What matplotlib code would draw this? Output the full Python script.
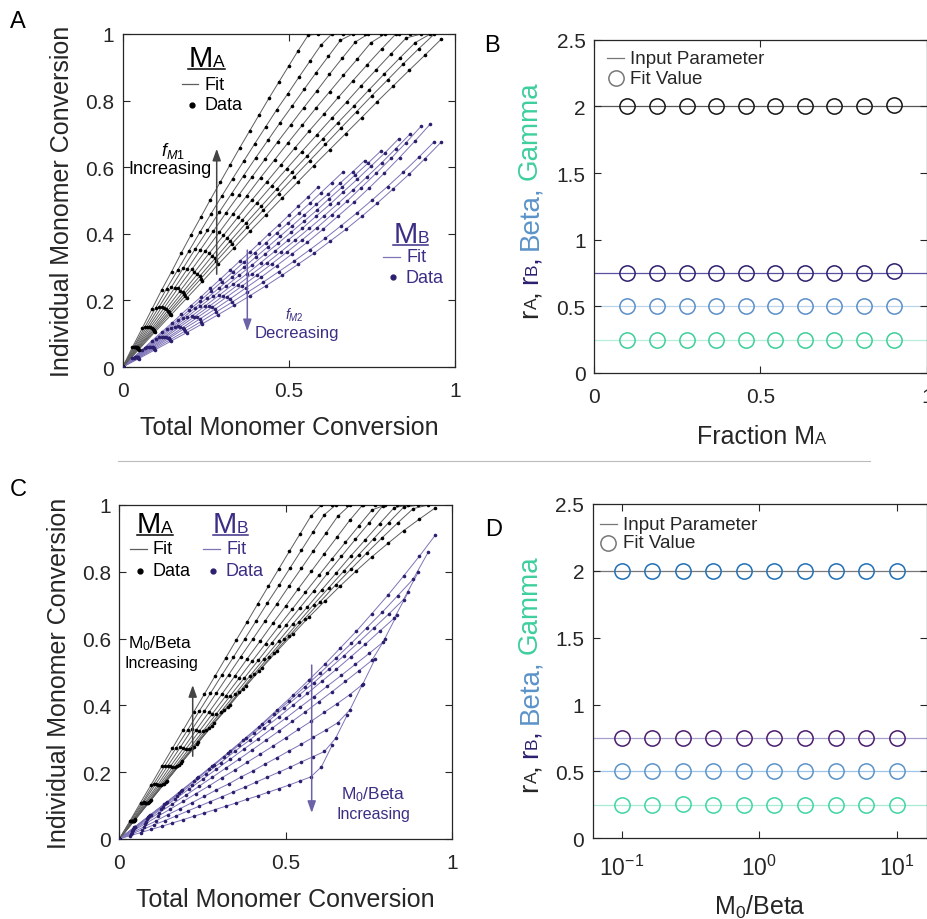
import numpy as np
import matplotlib
matplotlib.use("Agg")
import matplotlib.pyplot as plt
from matplotlib.lines import Line2D

plt.rcParams['font.family'] = ['Liberation Sans', 'DejaVu Sans']
plt.rcParams['mathtext.fontset'] = 'custom'
plt.rcParams['mathtext.rm'] = 'Liberation Sans'
plt.rcParams['mathtext.it'] = 'Liberation Sans:italic'

# ---------------- panel A: one row per feed fraction (f_MA = 0.1 ... 0.9)
A_x = [
    [0, .029, .059, .088, .117, .147, .176, .205, .235, .264, .294, .323, .352, .382, .411, .440, .470, .499, .528, .558, .587],
    [0, .033, .066, .099, .132, .166, .199, .232, .265, .298, .331, .364, .397, .430, .463, .497, .530, .563, .596, .629, .662],
    [0, .036, .073, .109, .146, .182, .218, .255, .291, .328, .364, .400, .437, .473, .510, .546, .582, .619, .655, .692, .728],
    [0, .039, .078, .117, .156, .195, .233, .272, .311, .350, .389, .428, .467, .506, .545, .584, .622, .661, .700, .739, .778],
    [0, .042, .083, .125, .166, .208, .249, .291, .332, .374, .415, .457, .498, .540, .581, .623, .664, .706, .747, .789, .830],
    [0, .043, .087, .130, .173, .216, .260, .303, .346, .389, .433, .476, .519, .562, .606, .649, .692, .735, .779, .822, .865],
    [0, .045, .090, .135, .180, .225, .269, .314, .359, .404, .449, .494, .539, .584, .629, .674, .718, .763, .808, .853, .898],
    [0, .046, .093, .139, .185, .232, .278, .324, .370, .417, .463, .509, .556, .602, .648, .695, .741, .787, .833, .880, .926],
    [0, .047, .094, .141, .188, .235, .281, .328, .375, .422, .469, .516, .563, .610, .657, .704, .750, .797, .844, .891, .938],
    [0, .048, .096, .144, .192, .240, .287, .335, .383, .431, .479, .527, .575, .623, .671, .719, .766, .814, .862, .910, .958],
]
A_ya = [
    [0, .059, .117, .174, .231, .286, .342, .396, .450, .503, .556, .607, .658, .709, .758, .807, .856, .903, .950, .996, 1],
    [0, .060, .119, .177, .235, .292, .348, .404, .459, .513, .566, .618, .670, .721, .772, .821, .870, .918, .966, 1, 1],
    [0, .061, .121, .180, .239, .297, .354, .410, .466, .521, .575, .628, .681, .733, .784, .834, .884, .933, .981, 1, 1],
    [0, .060, .120, .179, .237, .295, .351, .407, .463, .517, .571, .624, .677, .728, .779, .829, .879, .928, .976, 1, 1],
    [0, .060, .119, .178, .236, .293, .349, .405, .460, .515, .569, .622, .674, .726, .777, .827, .876, .925, .974, 1, 1],
    [0, .058, .116, .173, .229, .285, .341, .395, .449, .502, .555, .607, .659, .710, .760, .810, .859, .907, .955, 1, 1],
    [0, .057, .113, .169, .224, .279, .333, .387, .440, .493, .545, .596, .647, .697, .747, .796, .845, .893, .941, .988, 1],
    [0, .056, .111, .165, .219, .273, .326, .379, .431, .483, .534, .585, .635, .685, .734, .783, .832, .880, .927, .974, 1],
    [0, .054, .107, .160, .213, .265, .317, .369, .420, .470, .521, .571, .620, .669, .718, .767, .815, .862, .910, .956, 1],
    [0, .052, .104, .155, .206, .257, .308, .358, .408, .457, .507, .556, .605, .653, .701, .749, .797, .844, .891, .937, .984],
]
A_yb = [
    [0, .026, .052, .079, .105, .131, .158, .184, .210, .237, .264, .291, .318, .345, .372, .400, .427, .455, .483, .511, .540],
    [0, .028, .056, .085, .113, .141, .170, .198, .227, .256, .285, .314, .343, .372, .402, .432, .462, .492, .523, .554, .585],
    [0, .030, .059, .089, .118, .148, .178, .208, .238, .269, .299, .330, .361, .392, .424, .456, .488, .520, .553, .586, .620],
    [0, .030, .060, .090, .121, .151, .182, .212, .243, .275, .306, .339, .371, .404, .437, .471, .506, .541, .577, .613, .650],
    [0, .030, .061, .091, .122, .153, .184, .216, .248, .280, .313, .347, .381, .416, .452, .488, .526, .564, .603, .643, .685],
    [0, .030, .060, .090, .121, .151, .182, .214, .246, .279, .312, .346, .381, .417, .454, .492, .531, .571, .613, .656, .700],
    [0, .029, .059, .088, .118, .149, .179, .211, .243, .276, .310, .345, .381, .418, .457, .497, .539, .582, .627, .674, .723],
    [0, .028, .057, .086, .115, .144, .174, .205, .237, .270, .304, .339, .375, .413, .453, .494, .537, .582, .629, .679, .730],
    [0, .027, .054, .081, .108, .136, .165, .194, .224, .254, .286, .318, .352, .387, .424, .462, .501, .542, .585, .630, .677],
    [0, .025, .051, .077, .103, .130, .157, .185, .214, .244, .275, .308, .341, .377, .413, .452, .492, .535, .579, .626, .675],
]

# ---------------- panel C: one row per M0/Beta value (low ... high)
C_x = [
    [0, .048, .095, .143, .190, .238, .285, .333, .380, .428, .475, .523, .570, .618, .665, .713, .760, .808, .855, .903, .950],
    [0, .047, .093, .140, .186, .233, .279, .326, .372, .419, .465, .512, .558, .605, .651, .698, .744, .791, .837, .884, .930],
    [0, .045, .090, .135, .180, .225, .270, .315, .360, .405, .450, .495, .540, .585, .630, .675, .720, .765, .810, .855, .900],
    [0, .044, .087, .131, .174, .218, .261, .305, .348, .392, .435, .479, .522, .566, .609, .653, .696, .740, .783, .827, .870],
    [0, .042, .084, .125, .167, .209, .251, .292, .334, .376, .418, .459, .501, .543, .585, .626, .668, .710, .752, .793, .835],
    [0, .040, .080, .120, .160, .200, .240, .280, .320, .360, .400, .440, .480, .520, .560, .600, .640, .680, .720, .760, .800],
    [0, .039, .077, .116, .154, .193, .231, .270, .308, .347, .385, .424, .462, .501, .539, .578, .616, .655, .693, .732, .770],
    [0, .037, .073, .110, .146, .183, .219, .256, .292, .329, .365, .402, .438, .475, .511, .548, .584, .621, .657, .694, .730],
    [0, .034, .069, .103, .137, .171, .206, .240, .274, .308, .343, .377, .411, .445, .480, .514, .548, .582, .617, .651, .685],
    [0, .032, .064, .096, .128, .160, .192, .224, .256, .288, .320, .352, .384, .416, .448, .480, .512, .544, .576, .608, .640],
]
C_ya = [
    [0, .059, .117, .175, .233, .290, .347, .402, .457, .511, .563, .614, .664, .712, .758, .803, .845, .885, .923, .958, .991],
    [0, .057, .114, .171, .227, .283, .339, .394, .449, .503, .556, .609, .660, .711, .761, .809, .856, .902, .946, .989, 1],
    [0, .055, .111, .166, .221, .276, .331, .385, .439, .493, .546, .598, .650, .702, .752, .802, .851, .899, .947, .993, 1],
    [0, .055, .109, .164, .218, .272, .326, .380, .433, .487, .539, .592, .644, .695, .746, .797, .847, .896, .944, .992, 1],
    [0, .054, .108, .161, .215, .269, .322, .375, .429, .482, .535, .587, .640, .692, .743, .795, .846, .897, .947, .998, 1],
    [0, .054, .108, .161, .215, .269, .322, .375, .428, .481, .533, .585, .637, .688, .739, .789, .839, .888, .937, .985, 1],
    [0, .054, .109, .163, .218, .272, .326, .380, .433, .487, .540, .593, .646, .698, .750, .802, .853, .904, .954, 1, 1],
    [0, .055, .110, .165, .219, .274, .329, .383, .437, .492, .545, .599, .652, .705, .758, .811, .863, .915, .966, 1, 1],
    [0, .055, .109, .164, .219, .273, .327, .382, .436, .490, .544, .598, .652, .706, .759, .812, .865, .918, .971, 1, 1],
    [0, .054, .109, .163, .218, .272, .326, .380, .434, .488, .542, .596, .649, .703, .756, .809, .862, .914, .966, 1, 1],
]
C_yb = [
    [0, .036, .073, .110, .147, .185, .223, .263, .303, .344, .387, .431, .476, .523, .572, .622, .675, .730, .787, .847, .909],
    [0, .036, .072, .108, .145, .182, .219, .257, .295, .334, .374, .414, .456, .498, .541, .586, .632, .679, .728, .778, .860],
    [0, .035, .069, .104, .139, .174, .209, .245, .281, .317, .354, .392, .430, .468, .508, .548, .589, .631, .673, .717, .800],
    [0, .032, .065, .097, .130, .163, .196, .229, .263, .296, .331, .365, .400, .436, .472, .508, .545, .583, .622, .661, .740],
    [0, .030, .059, .089, .119, .149, .179, .209, .239, .270, .300, .331, .362, .394, .426, .458, .490, .523, .556, .589, .670],
    [0, .026, .052, .079, .105, .131, .158, .185, .212, .239, .267, .295, .323, .352, .381, .411, .441, .472, .503, .535, .600],
    [0, .023, .045, .068, .090, .113, .136, .159, .183, .206, .230, .254, .278, .303, .328, .353, .379, .405, .432, .463, .540],
    [0, .018, .036, .054, .073, .091, .109, .128, .147, .165, .185, .204, .224, .244, .264, .284, .305, .326, .348, .387, .460],
    [0, .014, .028, .042, .055, .069, .084, .098, .112, .126, .141, .155, .170, .185, .200, .215, .231, .246, .262, .302, .370],
    [0, .010, .019, .029, .038, .048, .058, .068, .078, .088, .098, .108, .119, .129, .140, .151, .162, .174, .186, .216, .280],
]

# ---------------- panels B and D: fitted parameters
B_frac = [0.1, 0.189, 0.278, 0.367, 0.456, 0.544, 0.633, 0.722, 0.811, 0.9]
B_rA = [2.0, 2.0, 2.0, 2.0, 2.0, 2.0, 2.0, 2.0, 2.0, 2.01]
B_rB = [0.75, 0.75, 0.75, 0.75, 0.75, 0.75, 0.75, 0.75, 0.75, 0.762]
B_beta = [0.5, 0.5, 0.5, 0.5, 0.5, 0.5, 0.5, 0.5, 0.5, 0.5]
B_gamma = [0.25, 0.25, 0.25, 0.25, 0.25, 0.25, 0.25, 0.25, 0.25, 0.25]

D_m0 = [0.1, 0.167, 0.278, 0.464, 0.774, 1.29, 2.15, 3.59, 5.99, 10.0]
D_rA = [2.0, 2.0, 2.0, 2.0, 2.0, 2.0, 2.0, 2.0, 2.0, 2.0]
D_rB = [0.75, 0.75, 0.75, 0.748, 0.752, 0.752, 0.75, 0.75, 0.75, 0.75]
D_beta = [0.5, 0.5, 0.5, 0.505, 0.5, 0.5, 0.5, 0.5, 0.5, 0.5]
D_gamma = [0.25, 0.25, 0.257, 0.25, 0.25, 0.25, 0.25, 0.25, 0.25, 0.25]

inputs = [2.0, 0.75, 0.5, 0.25]

W, H = 928, 920
fig = plt.figure(figsize=(W / 100, H / 100), dpi=100)


def box(l, t, r, b):
    return [l / W, 1 - b / H, (r - l) / W, (b - t) / H]


def P(px, py):
    return (px / W, 1 - py / H)


axA = fig.add_axes(box(122.7, 35, 455, 368))
axB = fig.add_axes(box(594, 40.7, 927, 374))
axC = fig.add_axes(box(119.3, 506, 451.7, 840))
axD = fig.add_axes(box(592.7, 505, 927, 839.3))

ink = '#262626'
purple_dot = '#2c1f6e'
purple_line = '#7d75b8'
purple_txt = '#3b2e85'
black_line = '#5e5e5e'

for ax in (axA, axB, axC, axD):
    for sp in ax.spines.values():
        sp.set_color(ink)
        sp.set_linewidth(0.9)
    ax.tick_params(direction='in', length=5, width=0.8, color=ink, labelsize=15,
                   top=True, right=True, labelcolor=ink, pad=6)
    ax.tick_params(axis='x', pad=10)

for ax, xs, yas, ybs in [(axA, A_x, A_ya, A_yb), (axC, C_x, C_ya, C_yb)]:
    for x, ya, yb in zip(xs, yas, ybs):
        ax.plot(x, ya, '-', color=black_line, lw=0.7, zorder=2)
        ax.plot(x, ya, 'o', color='black', ms=2.6, mew=0, zorder=3)
        ax.plot(x, yb, '-', color=purple_line, lw=0.7, zorder=2)
        ax.plot(x, yb, 'o', color=purple_dot, ms=2.6, mew=0, zorder=3)
    ax.set_xlim(0, 1)
    ax.set_ylim(0, 1)
    ax.set_xticks([0, 0.5, 1])
    ax.set_xticklabels(['0', '0.5', '1'])
    ax.set_yticks([0, 0.2, 0.4, 0.6, 0.8, 1])
    ax.set_yticklabels(['0', '0.2', '0.4', '0.6', '0.8', '1'])
    ax.set_xlabel('Total Monomer Conversion', fontsize=18, color=ink, labelpad=11)
    ax.set_ylabel('Individual Monomer Conversion', fontsize=18, color=ink, labelpad=8)

line_cols_B = ['#555555', '#5a50a0', '#bcd3ec', '#b5efdc']
circ_cols_B = ['#151515', '#2d1e6e', '#5b8fc7', '#3ccf98']
line_cols_D = ['#777777', '#a49fcc', '#9cc4e8', '#a6ebd2']
circ_cols_D = ['#1f6fb5', '#4a1c6c', '#5b93c9', '#3fd6a0']

for v, lc in zip(inputs, line_cols_B):
    axB.axhline(v, color=lc, lw=0.9, zorder=1)
for ys, cc in zip([B_rA, B_rB, B_beta, B_gamma], circ_cols_B):
    axB.plot(B_frac, ys, 'o', mfc='none', mec=cc, ms=11, mew=1.1, zorder=3)
axB.set_xlim(0, 1)
axB.set_ylim(0, 2.5)
axB.set_xticks([0, 0.5, 1])
axB.set_xticklabels(['0', '0.5', '1'])
axB.set_yticks([0, 0.5, 1, 1.5, 2, 2.5])
axB.set_yticklabels(['0', '0.5', '1', '1.5', '2', '2.5'])

for v, lc in zip(inputs, line_cols_D):
    axD.axhline(v, color=lc, lw=0.9, zorder=1)
for ys, cc in zip([D_rA, D_rB, D_beta, D_gamma], circ_cols_D):
    axD.plot(D_m0, ys, 'o', mfc='none', mec=cc, ms=11, mew=1.1, zorder=3)
axD.set_xscale('log')
axD.set_xlim(10 ** -1.21, 10 ** 1.22)
axD.set_ylim(0, 2.5)
axD.set_xticks([0.1, 1, 10])
axD.set_xticklabels(['$\\mathregular{10^{-1}}$', '$\\mathregular{10^{0}}$', '$\\mathregular{10^{1}}$'])
axD.minorticks_off()
axD.set_yticks([0, 0.5, 1, 1.5, 2, 2.5])
axD.set_yticklabels(['0', '0.5', '1', '1.5', '2', '2.5'])
axD.tick_params(axis='x', pad=12, labelsize=16.5)
axD.set_xlabel('M$_\\mathregular{0}$/Beta', fontsize=18, color=ink, labelpad=9)

renderer = fig.canvas.get_renderer()


def rich(px, py, pieces, rotate=False):
    # place differently sized / coloured pieces one after the other
    pos = 0.0
    for s, size, color, gap in pieces:
        if rotate:
            t = fig.text(px / W, 1 - (py - pos) / H, s, fontsize=size, color=color,
                         rotation=90, rotation_mode='anchor', ha='left', va='baseline')
            pos += t.get_window_extent(renderer).height + gap
        else:
            t = fig.text((px + pos) / W, 1 - py / H, s, fontsize=size, color=color,
                         ha='left', va='baseline')
            pos += t.get_window_extent(renderer).width + gap


lab_pieces = [('r', 20, ink, 0), ('A', 12.5, ink, 0), (',', 20, ink, 5.5),
              ('r', 20, '#2d1e6e', 0), ('B', 12.5, '#2d1e6e', 0), (',', 20, '#2d1e6e', 5.5),
              ('Beta,', 20, '#5b93c9', 5.5), ('Gamma', 20, '#3ecf9c', 0)]
rich(537, 318, lab_pieces, rotate=True)
rich(537, 792, lab_pieces, rotate=True)
rich(697, 444, [('Fraction M', 18, ink, 0), ('A', 12, ink, 0)])

for (lx, ly, cy) in [(607, 59, 79), (600, 525, 544)]:
    fig.add_artist(Line2D([P(lx, ly)[0], P(lx + 17, ly)[0]], [P(lx, ly)[1]] * 2, color='#777777', lw=0.9))
    fig.text(*P(lx + 23, ly), 'Input Parameter', fontsize=13.5, color=ink, va='center', ha='left')
    fig.add_artist(Line2D([P(lx + 8.5, cy)[0]], [P(lx + 8.5, cy)[1]], marker='o', mfc='none',
                          mec='#777777', ms=11, mew=1.1))
    fig.text(*P(lx + 23, cy), 'Fit Value', fontsize=13.5, color=ink, va='center', ha='left')

arrow_kw = '-|>,head_length=0.7,head_width=0.25'


def arrow(x, y0, y1, col):
    fig.add_artist(plt.Annotation('', xy=P(x, y1), xytext=P(x, y0), xycoords='figure fraction',
                                  arrowprops=dict(arrowstyle=arrow_kw, color=col, lw=1.1)))


def key(mx, my, sub, col, lcol, dcol, ux1, fx, fy, dx, dy):
    rich(mx, my, [('M', 21, col, 0), (sub, 12.5, col, 0)])
    fig.add_artist(Line2D([P(mx, 0)[0], P(ux1, 0)[0]], [P(0, my + 2.8)[1]] * 2, color=col, lw=1.1))
    fig.add_artist(Line2D([P(fx, 0)[0], P(fx + 16.7, 0)[0]], [P(0, fy)[1]] * 2, color=lcol, lw=0.9))
    fig.text(*P(fx + 23, fy), 'Fit', fontsize=13, color=col, va='center')
    fig.add_artist(Line2D([P(dx, dy)[0]], [P(dx, dy)[1]], marker='o', color=dcol, ms=3.5))
    fig.text(*P(dx + 12.5, dy), 'Data', fontsize=13, color=col, va='center')


key(188.3, 66.7, 'A', 'black', black_line, 'black', 225, 181.7, 85, 191.7, 106)
fig.text(*P(173, 151), '$f_{M1}$', fontsize=13, color='black', ha='center', va='center')
fig.text(*P(170, 170), 'Increasing', fontsize=13, color='black', ha='center', va='center')
arrow(216.7, 278, 147, '#444444')
key(393.3, 242.7, 'B', purple_txt, purple_line, purple_dot, 428.3, 383.3, 257.7, 393.3, 278.3)
fig.text(*P(294.3, 315), '$f_{M2}$', fontsize=10, color=purple_txt, ha='center', va='center')
fig.text(*P(296.7, 333.3), 'Decreasing', fontsize=12, color=purple_txt, ha='center', va='center')
arrow(247.3, 248.3, 335, '#6b63a8')

key(136.7, 533.3, 'A', 'black', black_line, 'black', 173, 130, 550, 140, 571.7)
key(212.7, 533.3, 'B', purple_txt, purple_line, purple_dot, 248.3, 203.3, 550, 212.7, 571.7)
fig.text(*P(160, 643.3), 'M$_\\mathregular{0}$/Beta', fontsize=12.5, color='black', ha='center', va='center')
fig.text(*P(161.7, 663.3), 'Increasing', fontsize=11.5, color='black', ha='center', va='center')
arrow(192.7, 760, 683.3, '#444444')
fig.text(*P(373.3, 795), 'M$_\\mathregular{0}$/Beta', fontsize=12.5, color=purple_txt, ha='center', va='center')
fig.text(*P(373.3, 815), 'Increasing', fontsize=11.5, color=purple_txt, ha='center', va='center')
arrow(311.7, 663.3, 816.7, '#6b63a8')

for s, x, y in [('A', 18, 22), ('B', 492, 46), ('C', 18, 490), ('D', 494, 530)]:
    fig.text(*P(x, y), s, fontsize=17, color='black', ha='center', va='center')
fig.add_artist(Line2D([P(118, 0)[0], P(870, 0)[0]], [P(0, 462)[1]] * 2, color='#bbbbbb', lw=0.8))

fig.savefig('out.png', dpi=100)
